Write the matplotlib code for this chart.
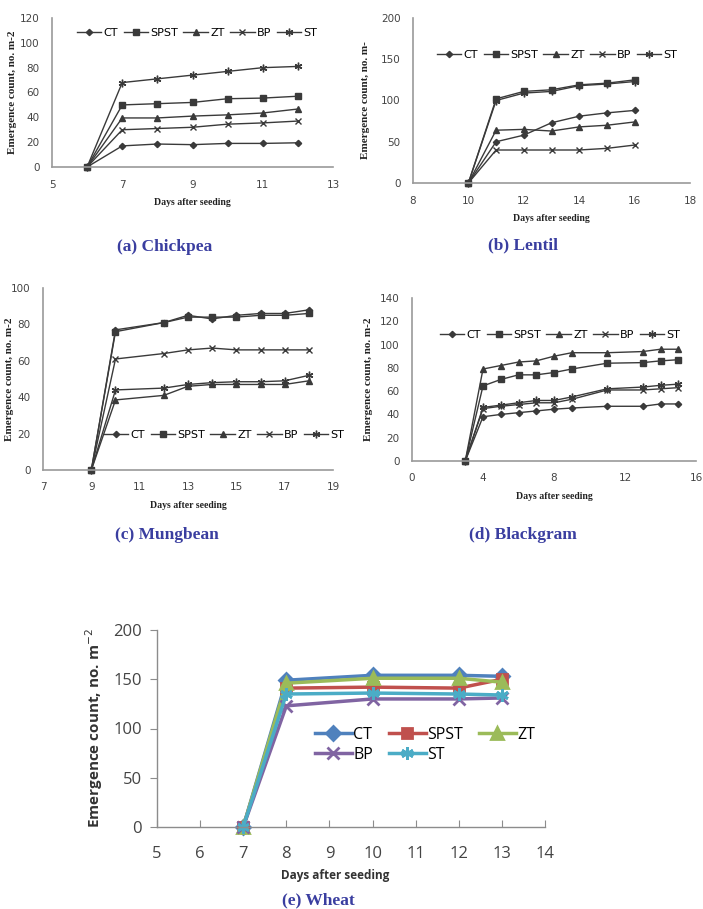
import matplotlib.pyplot as plt

# ---- data ----
series_names = ['CT', 'SPST', 'ZT', 'BP', 'ST']

# (a) Chickpea
chick_days = [6, 7, 8, 9, 10, 11, 12]
chick_CT = [0, 17, 18.5, 18, 19, 19, 19.5]
chick_SPST = [0, 50, 51, 52, 55, 55.5, 57]
chick_ZT = [0, 39.5, 39.5, 41, 42, 43.5, 46.7]
chick_BP = [0, 30, 31, 32, 34.5, 35.5, 37]
chick_ST = [0, 68, 71, 74, 77, 80, 81]

# (b) Lentil
lentil_days = [10, 11, 12, 13, 14, 15, 16]
lentil_CT = [0, 50, 58, 73, 81, 85, 88]
lentil_SPST = [0, 102, 111, 113, 119, 121, 125]
lentil_ZT = [0, 64, 65, 63, 68, 70, 74]
lentil_BP = [0, 40, 40, 40, 40, 42, 46]
lentil_ST = [0, 100, 109, 111, 118, 120, 123]

# (c) Mungbean
mung_days = [9, 10, 12, 13, 14, 15, 16, 17, 18]
mung_CT = [0, 77, 81, 85, 83, 85, 86, 86, 88]
mung_SPST = [0, 76, 81, 84, 84, 84, 85, 85, 86]
mung_ZT = [0, 38.5, 41, 46, 47, 47, 47, 47, 49]
mung_BP = [0, 61, 64, 66, 67, 66, 66, 66, 66]
mung_ST = [0, 44, 45, 47, 48, 48.5, 48.5, 49, 52]

# (d) Blackgram
black_days = [3, 4, 5, 6, 7, 8, 9, 11, 13, 14, 15]
black_CT = [0, 38, 40, 41.5, 43, 44.5, 45.5, 47, 47, 49, 49]
black_SPST = [0, 64.5, 70, 74, 74, 76, 79, 84, 84.5, 86, 87]
black_ZT = [0, 79, 82, 85, 86, 90, 93, 93, 94, 96, 96]
black_BP = [0, 45, 47, 48.5, 50, 50, 53, 61, 61, 62, 63]
black_ST = [0, 46, 48, 50, 52, 52, 55, 62, 63.5, 65, 66]

# (e) Wheat
wheat_days = [7, 8, 10, 12, 13]
wheat_CT = [0, 149, 154, 154, 153]
wheat_SPST = [0, 141, 142, 141, 150]
wheat_ZT = [0, 146, 151, 151, 147]
wheat_BP = [0, 123, 130, 130, 131]
wheat_ST = [0, 135, 136, 135, 134]

W, H = 703, 909
fig = plt.figure(figsize=(W / 100, H / 100), dpi=100)


def add_ax(x0, y0, x1, y1):
    # pixel box (top-left origin) -> figure fraction
    return fig.add_axes([x0 / W, 1 - y1 / H, (x1 - x0) / W, (y1 - y0) / H])


title_color = '#3a3ea0'
markers = ['D', 's', '^', 'x', (6, 2, 0)]
msizes = [3.2, 3.8, 4.2, 4.5, 5.5]


def small_panel(box, days, values, xlim, xticks, ylim, yticks, title, title_xy,
                leg_xy, ylab_x, ylabel='Emergence count, no. m-2'):
    ax = add_ax(*box)
    for name, vals, mk, ms in zip(series_names, values, markers, msizes):
        ax.plot(days, vals, color='#3a3a3a', lw=1, marker=mk, ms=ms,
                mew=1, label=name, clip_on=False)
    ax.set_xlim(*xlim)
    ax.set_ylim(*ylim)
    ax.set_xticks(xticks)
    ax.set_yticks(yticks)
    for s in ['top', 'right']:
        ax.spines[s].set_visible(False)
    for s in ['left', 'bottom']:
        ax.spines[s].set_color('#9a9a9a')
        ax.spines[s].set_linewidth(1.2)
    ax.tick_params(length=0, labelsize=7.5, labelcolor='#444444', pad=9)
    ax.set_ylabel(ylabel, family='Liberation Serif', fontweight='bold',
                  fontsize=8, color='#222222')
    width = box[2] - box[0]
    ax.yaxis.set_label_coords(-(box[0] - ylab_x - 5) / width, 0.5)
    ax.set_xlabel('Days after seeding', family='Liberation Serif',
                  fontweight='bold', fontsize=7, color='#222222', labelpad=6)
    ax.legend(loc='center', bbox_to_anchor=(leg_xy[0] / W, 1 - leg_xy[1] / H),
              bbox_transform=fig.transFigure, ncol=5, frameon=False,
              fontsize=8, handlelength=2.2, handletextpad=0.2,
              columnspacing=0.5, borderpad=0)
    fig.text(title_xy[0] / W, 1 - title_xy[1] / H, title,
             family='Liberation Serif', fontweight='bold', fontsize=12.5,
             color=title_color, ha='center', va='center')
    return ax


small_panel((52, 18, 333, 167), chick_days,
            [chick_CT, chick_SPST, chick_ZT, chick_BP, chick_ST],
            (5, 13), [5, 7, 9, 11, 13], (0, 120), range(0, 121, 20),
            '(a) Chickpea', (165, 247), (197, 33), 12)

small_panel((413, 18, 690, 183), lentil_days,
            [lentil_CT, lentil_SPST, lentil_ZT, lentil_BP, lentil_ST],
            (8, 18), [8, 10, 12, 14, 16, 18], (0, 200), range(0, 201, 50),
            '(b) Lentil', (523, 245), (557, 55), 365,
            ylabel='Emergence count, no. m-')

small_panel((43, 288, 333, 470), mung_days,
            [mung_CT, mung_SPST, mung_ZT, mung_BP, mung_ST],
            (7, 19), [7, 9, 11, 13, 15, 17, 19], (0, 100), range(0, 101, 20),
            '(c) Mungbean', (167, 535), (224, 435), 9)

small_panel((412, 298, 696, 461), black_days,
            [black_CT, black_SPST, black_ZT, black_BP, black_ST],
            (0, 16), [0, 4, 8, 12, 16], (0, 140), range(0, 141, 20),
            '(d) Blackgram', (523, 535), (560, 335), 368)

# ---- (e) Wheat ----
ax = add_ax(157, 630, 545, 827)
wheat_colors = ['#4f81bd', '#c0504d', '#9bbb59', '#8064a2', '#4bacc6']
wheat_markers = ['D', 's', '^', 'x', (6, 2, 0)]
wheat_ms = [7, 7.5, 8, 8, 9]
handles = []
for name, vals, c, mk, ms in zip(series_names,
                                 [wheat_CT, wheat_SPST, wheat_ZT, wheat_BP, wheat_ST],
                                 wheat_colors, wheat_markers, wheat_ms):
    h, = ax.plot(wheat_days, vals, color=c, lw=2.5, marker=mk, ms=ms, mew=2,
                 label=name, clip_on=False)
    handles.append(h)
ax.set_xlim(5, 14)
ax.set_ylim(0, 200)
ax.set_xticks(range(5, 15))
ax.set_yticks(range(0, 201, 50))
for s in ['top', 'right']:
    ax.spines[s].set_visible(False)
for s in ['left', 'bottom']:
    ax.spines[s].set_color('#8c8c8c')
    ax.spines[s].set_linewidth(1)
ax.tick_params(axis='x', direction='in', length=5, color='#8c8c8c',
               labelsize=12, labelcolor='#444444', pad=14)
ax.tick_params(axis='y', direction='out', length=5, color='#8c8c8c',
               labelsize=12, labelcolor='#444444', pad=6)
for lab in ax.get_xticklabels() + ax.get_yticklabels():
    lab.set_family('Open Sans')
ax.set_ylabel('Emergence count, no. m$^{-2}$', family='Open Sans',
              fontweight='bold', fontsize=11, color='#333333', labelpad=6)
ax.set_xlabel('Days after seeding', family='Open Sans', fontweight='bold',
              fontsize=8.5, color='#333333')
ax.xaxis.set_label_coords(0.46, -0.215)
# legend is filled column by column: CT/BP, SPST/ST, ZT
order = [0, 3, 1, 4, 2]
ax.legend([handles[i] for i in order], [series_names[i] for i in order],
          loc='center', bbox_to_anchor=(425 / W, 1 - 745 / H),
          bbox_transform=fig.transFigure, ncol=3, frameon=False,
          prop={'family': 'Open Sans', 'size': 11.5}, handlelength=2.3,
          handletextpad=0.1, columnspacing=1.0, labelspacing=0.25,
          borderpad=0)
fig.text(318 / W, 1 - 900 / H, '(e) Wheat', family='Liberation Serif',
         fontweight='bold', fontsize=12.5, color=title_color,
         ha='center', va='center')

fig.savefig('out.png', dpi=100)
